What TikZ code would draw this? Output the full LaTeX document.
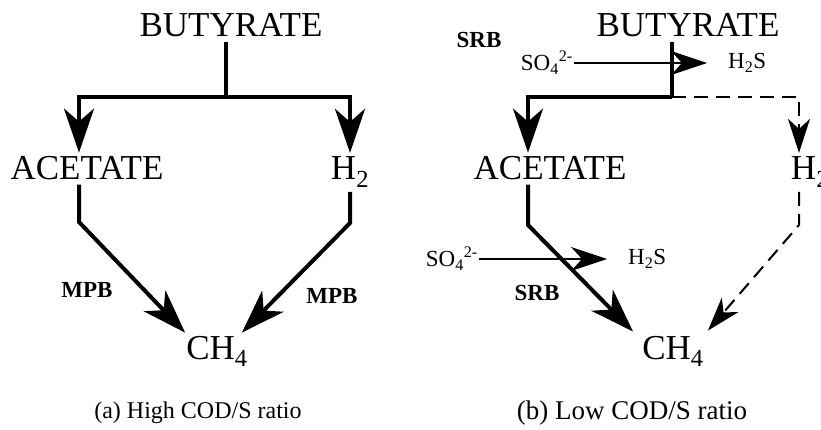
\documentclass[tikz,border=0pt]{standalone}
\usepackage{fontspec}
\setmainfont{Liberation Serif}
\usetikzlibrary{arrows.meta,positioning,calc}
\tikzset{
  chem/.style={font=\fontsize{35}{40}\selectfont, inner sep=4pt, anchor=base},
  microbe/.style={font=\fontsize{23}{26}\selectfont\bfseries, inner sep=1pt},
  ion/.style={font=\fontsize{23}{26}\selectfont, inner sep=1pt},
  caption/.style={font=\fontsize{24}{28}\selectfont, inner sep=1pt},
  flowline/.style={line width=4pt},
  flow/.style={flowline, -{Stealth[length=44pt, width=30pt, inset=13pt]}},
  weakflow/.style={line width=2pt, dash pattern=on 14pt off 8pt, -{Stealth[length=34pt, width=22pt, inset=10pt]}},
  sulfate/.style={line width=1.4pt, -{Stealth[length=36pt, width=24pt, inset=11pt]}}
}
\begin{document}
\begin{tikzpicture}[x=1pt, y=-1pt]
  \useasboundingbox (0,0) rectangle (821,430);
  % (a) high COD/S ratio
  \node[chem] (butA) at (231,37) {BUTYRATE};
  \node[chem] (acA) at (87,180) {ACETATE};
  \node[chem] (h2A) at (350,180) {H\textsubscript{2}};
  \node[chem] (ch4A) at (217,359) {CH\textsubscript{4}};
  \coordinate (aSplit) at (226,97);
  \coordinate (aBendL) at (79,222);
  \coordinate (aBendR) at (350,223);
  \draw[flowline] (butA.south -| aSplit) -- (aSplit);
  \draw[flow] (aSplit) -| (aBendL |- acA.north);
  \draw[flow] (aSplit) -| (aBendR |- h2A.north);
  \draw[flow] (acA.south -| aBendL) -- (aBendL) -- ([shift={(3,1)}]ch4A.north west);
  \draw[flow] (h2A.south -| aBendR) -- (aBendR) -- ([shift={(-10,1)}]ch4A.north east);
  \node[microbe] (mpbL) at (87,290) {MPB};
  \node[microbe] (mpbR) at (332,296) {MPB};
  \node[caption] (capA) at (198,413) {(a) High COD/S ratio};
  % (b) low COD/S ratio
  \node[chem] (butB) at (688,37) {BUTYRATE};
  \node[chem] (acB) at (550,180) {ACETATE};
  \node[chem] (h2B) at (810,180) {H\textsubscript{2}};
  \node[chem] (ch4B) at (673,359) {CH\textsubscript{4}};
  \node[microbe] (srbUp) at (479,40) {SRB};
  \node[microbe] (srbLow) at (537,293) {SRB};
  \node[ion, anchor=east] (so4Up) at (574,63) {SO\textsubscript{4}\textsuperscript{2-}};
  \node[ion, anchor=west] (h2sUp) at (727,63) {H\textsubscript{2}S};
  \node[ion, anchor=east] (so4Low) at (479,259) {SO\textsubscript{4}\textsuperscript{2-}};
  \node[ion, anchor=west] (h2sLow) at (627,259) {H\textsubscript{2}S};
  \draw[sulfate] (so4Up) -- ([xshift=-20pt]h2sUp.west);
  \draw[sulfate] (so4Low) -- ([xshift=-20pt]h2sLow.west);
  \coordinate (bSplit) at (672,97);
  \coordinate (bBendL) at (528,225);
  \coordinate (bBendR) at (799,225);
  \draw[flowline] (butB.south -| bSplit) -- (bSplit);
  \draw[flow] (bSplit) -| (bBendL |- acB.north);
  \draw[weakflow] (bSplit) -| (bBendR |- h2B.north);
  \draw[flow] (acB.south -| bBendL) -- (bBendL) -- ([shift={(-5,0)}]ch4B.north west);
  \draw[weakflow] (h2B.south -| bBendR) -- (bBendR) -- ([shift={(0,-1)}]ch4B.north east);
  \node[caption, font=\fontsize{27}{30}\selectfont] (capB) at (632,413) {(b) Low COD/S ratio};
\end{tikzpicture}
\end{document}
